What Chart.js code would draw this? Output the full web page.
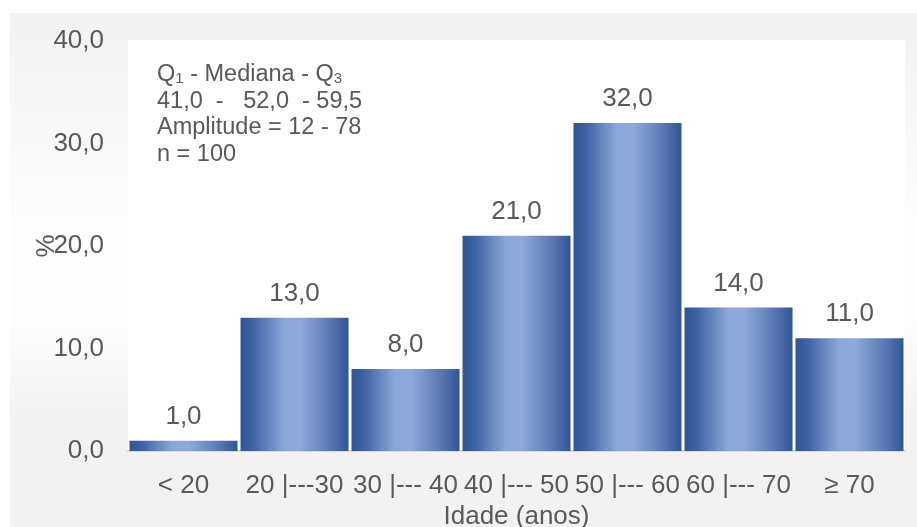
<!DOCTYPE html>
<html>
<head>
<meta charset="utf-8">
<script src="https://cdn.jsdelivr.net/npm/chart.js@4.4.1/dist/chart.umd.min.js"></script>
<style>
  html, body { margin: 0; padding: 0; background: #ffffff; }
  #wrap { width: 917px; height: 527px; position: relative; }
</style>
</head>
<body>
<div id="wrap"><canvas id="chart" width="917" height="527"></canvas></div>
<script>
// Age distribution (%)
const categories = ['< 20', '20 |---30', '30 |--- 40', '40 |--- 50', '50 |--- 60', '60 |--- 70', '\u2265 70'];
const percentages = [1.0, 13.0, 8.0, 21.0, 32.0, 14.0, 11.0];
const yTicks = [0, 10, 20, 30, 40];
const summaryLines = ['Q\u2081 - Mediana - Q\u2083', '41,0  -   52,0  - 59,5', 'Amplitude = 12 - 78', 'n = 100'];
const xTitle = 'Idade (anos)';
const yTitle = '%';

const FONT = '"Liberation Sans", Arial, sans-serif';
const TEXT = '#595959';

const fmt = v => v.toFixed(1).replace('.', ',');

// Background panel + white plot area
const backdrop = {
  id: 'backdrop',
  beforeDraw(chart) {
    const { ctx, chartArea: a } = chart;
    ctx.save();
    const g = ctx.createLinearGradient(0, 13, 0, 527);
    g.addColorStop(0, '#f2f2f2');
    g.addColorStop(0.4, '#fdfdfd');
    g.addColorStop(0.6, '#fdfdfd');
    g.addColorStop(0.8, '#f2f2f2');
    g.addColorStop(1, '#f2f2f2');
    ctx.fillStyle = g;
    ctx.fillRect(10, 13, 907, 514);
    ctx.fillStyle = '#ffffff';
    ctx.fillRect(a.left, a.top - 1, a.right - a.left, a.bottom - a.top + 1);
    ctx.restore();
  }
};

// Horizontal shading on each bar (own options object per bar)
const barShade = {
  id: 'barShade',
  beforeDatasetsDraw(chart) {
    const { ctx } = chart;
    chart.getDatasetMeta(0).data.forEach(bar => {
      const x0 = bar.x - bar.width / 2, x1 = bar.x + bar.width / 2;
      const g = ctx.createLinearGradient(x0, 0, x1, 0);
      g.addColorStop(0, '#2f5597');
      g.addColorStop(0.12, '#3f63a3');
      g.addColorStop(0.4, '#8aa7d9');
      g.addColorStop(0.55, '#8eaadb');
      g.addColorStop(0.85, '#5574b0');
      g.addColorStop(1, '#2f5597');
      bar.options = Object.assign({}, bar.options, { backgroundColor: g });
    });
  }
};

// Value labels and summary box text
const annotations = {
  id: 'annotations',
  afterDatasetsDraw(chart) {
    const { ctx } = chart;
    ctx.save();
    ctx.fillStyle = TEXT;
    ctx.font = '26px ' + FONT;
    ctx.textAlign = 'center';
    ctx.textBaseline = 'alphabetic';
    chart.getDatasetMeta(0).data.forEach((bar, i) => {
      ctx.fillText(fmt(percentages[i]), bar.x, bar.y - 17);
    });

    ctx.textAlign = 'left';
    const x = 157, y0 = 81, lh = 26.7;
    // first line with subscripts
    let cx = x;
    const parts = [['Q', false], ['1', true], [' - Mediana - Q', false], ['3', true]];
    parts.forEach(([t, sub]) => {
      ctx.font = (sub ? '15px ' : '23.5px ') + FONT;
      ctx.fillText(t, cx, sub ? y0 + 2 : y0);
      cx += ctx.measureText(t).width;
    });
    ctx.font = '23.5px ' + FONT;
    for (let i = 1; i < summaryLines.length; i++) {
      ctx.fillText(summaryLines[i], x, y0 + i * lh);
    }
    ctx.restore();
  }
};

new Chart(document.getElementById('chart'), {
  type: 'bar',
  data: {
    labels: categories,
    datasets: [{
      data: percentages,
      backgroundColor: '#5a7ab8',
      borderWidth: 0,
      barPercentage: 0.973,
      categoryPercentage: 1.0
    }]
  },
  options: {
    responsive: false,
    animation: false,
    events: [],
    layout: { padding: { left: 0, right: 12, top: 41, bottom: 0 } },
    plugins: { legend: { display: false }, tooltip: { enabled: false } },
    scales: {
      x: {
        grid: { display: false, drawTicks: false },
        border: { display: true, color: '#d9d9d9', width: 2 },
        ticks: { color: TEXT, font: { family: FONT, size: 26 }, padding: 19, maxRotation: 0, minRotation: 0, autoSkip: false },
        title: { display: true, text: xTitle, color: TEXT, font: { family: FONT, size: 26, lineHeight: 0.92 }, padding: { top: 0, bottom: -2 } },
        afterFit(scale) { scale.height = 76; }
      },
      y: {
        min: 0, max: 40,
        afterBuildTicks(scale) { scale.ticks = yTicks.map(v => ({ value: v })); },
        grid: { display: false, drawTicks: false },
        border: { display: false },
        ticks: { color: TEXT, font: { family: FONT, size: 26 }, padding: 24, callback: v => fmt(v) },
        title: { display: true, text: yTitle, color: TEXT, font: { family: FONT, size: 26 }, padding: { top: 31, bottom: 0 } },
        afterFit(scale) { scale.width = 128; }
      }
    }
  },
  plugins: [backdrop, barShade, annotations]
});
</script>
</body>
</html>
